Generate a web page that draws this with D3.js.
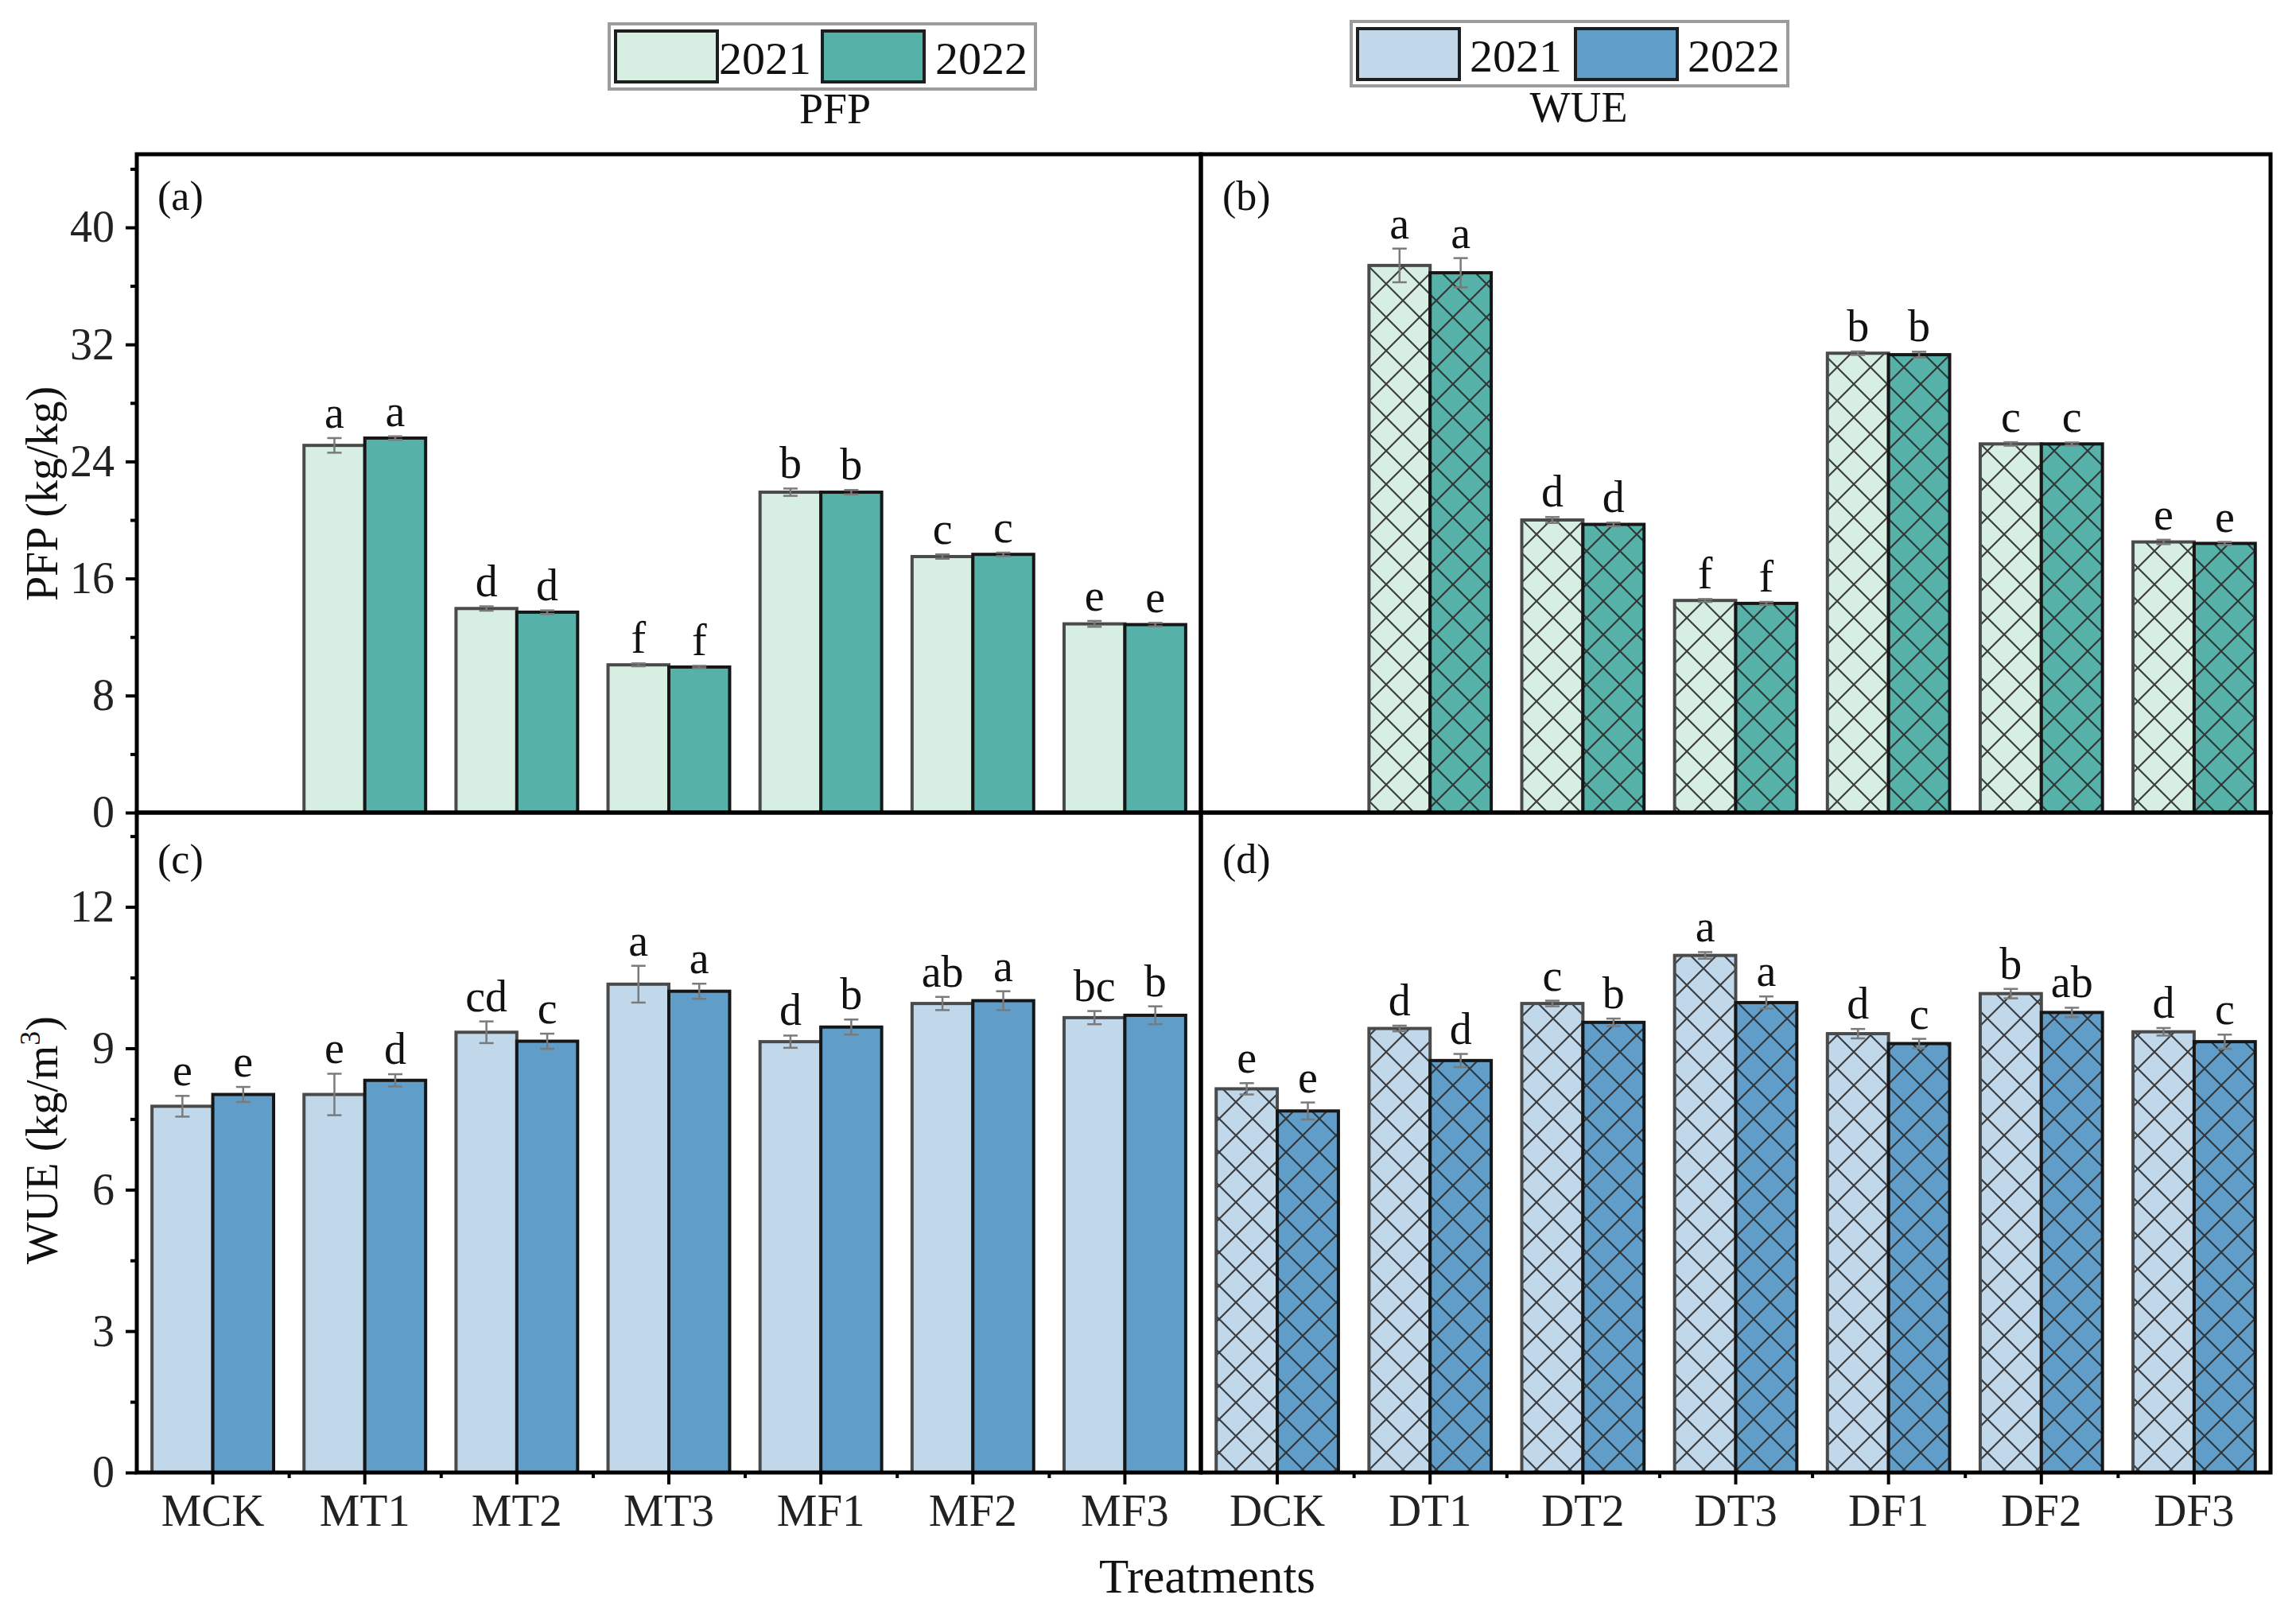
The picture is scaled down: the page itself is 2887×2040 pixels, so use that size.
<!DOCTYPE html>
<html>
<head>
<meta charset="utf-8">
<script src="https://cdn.jsdelivr.net/npm/d3@7"></script>
<style>
  body { margin: 0; background: #fff; }
</style>
</head>
<body>
<div id="chart"></div>
<script>
// categories
const catsM = ["MCK", "MT1", "MT2", "MT3", "MF1", "MF2", "MF3"];
const catsD = ["DCK", "DT1", "DT2", "DT3", "DF1", "DF2", "DF3"];
const years = ["2021", "2022"];

// PFP (kg/kg), CK has no fertilizer so no bar
const pfpM2021 = [null, 25.1, 13.95, 10.1, 21.9, 17.5, 12.9];
const pfpM2022 = [null, 25.6, 13.7, 9.95, 21.9, 17.65, 12.85];
const pfpMErr2021 = [0, 0.5, 0.15, 0.1, 0.25, 0.15, 0.2];
const pfpMErr2022 = [0, 0.12, 0.12, 0.08, 0.15, 0.12, 0.12];
const pfpMLet2021 = ["", "a", "d", "f", "b", "c", "e"];
const pfpMLet2022 = ["", "a", "d", "f", "b", "c", "e"];

const pfpD2021 = [null, 37.4, 20.0, 14.5, 31.4, 25.2, 18.5];
const pfpD2022 = [null, 36.9, 19.7, 14.3, 31.3, 25.2, 18.4];
const pfpDErr2021 = [0, 1.15, 0.2, 0.1, 0.12, 0.12, 0.15];
const pfpDErr2022 = [0, 1.0, 0.12, 0.1, 0.2, 0.1, 0.1];
const pfpDLet2021 = ["", "a", "d", "f", "b", "c", "e"];
const pfpDLet2022 = ["", "a", "d", "f", "b", "c", "e"];

// WUE (kg/m3)
const wueM2021 = [7.77, 8.02, 9.34, 10.36, 9.14, 9.95, 9.65];
const wueM2022 = [8.02, 8.32, 9.15, 10.21, 9.45, 10.01, 9.70];
const wueMErr2021 = [0.22, 0.44, 0.23, 0.39, 0.13, 0.14, 0.14];
const wueMErr2022 = [0.16, 0.13, 0.16, 0.16, 0.16, 0.2, 0.19];
const wueMLet2021 = ["e", "e", "cd", "a", "d", "ab", "bc"];
const wueMLet2022 = ["e", "d", "c", "a", "b", "a", "b"];

const wueD2021 = [8.14, 9.42, 9.95, 10.97, 9.31, 10.16, 9.35];
const wueD2022 = [7.67, 8.74, 9.55, 9.97, 9.10, 9.76, 9.14];
const wueDErr2021 = [0.12, 0.06, 0.06, 0.07, 0.1, 0.1, 0.08];
const wueDErr2022 = [0.18, 0.14, 0.08, 0.13, 0.1, 0.1, 0.15];
const wueDLet2021 = ["e", "d", "c", "a", "d", "b", "d"];
const wueDLet2022 = ["e", "d", "b", "a", "c", "ab", "c"];

// axis ticks
const pfpTicks = [0, 8, 16, 24, 32, 40];
const pfpMinor = [4, 12, 20, 28, 36, 44];
const wueTicks = [0, 3, 6, 9, 12];
const wueMinor = [1.5, 4.5, 7.5, 10.5, 13.5];

const colPFP = ["#d7efe3", "#56b1a8"];
const colWUE = ["#c1d8eb", "#609ec9"];
const strokeCol = ["#4a4a4a", "#161616"];

const W = 2887, H = 2040;
const xLeft = 172, xMid = 1510, xRight = 2855;
const yTop = 194, yMid = 1022, yBottom = 1852;
const font = "'Liberation Serif','Times New Roman',serif";

const svg = d3.select("#chart").append("svg")
  .attr("width", W)
  .attr("height", H)
  .style("font-family", font);

const defs = svg.append("defs");
function hatch(id, color) {
  const p = defs.append("pattern")
    .attr("id", id)
    .attr("patternUnits", "userSpaceOnUse")
    .attr("width", 42)
    .attr("height", 42);
  p.append("rect").attr("width", 42).attr("height", 42).attr("fill", color);
  p.append("path")
    .attr("d", "M0,0L42,42M42,0L0,42")
    .attr("stroke", "#2b2b2b")
    .attr("stroke-opacity", 0.9)
    .attr("stroke-width", 2.2);
}
hatch("hp1", colPFP[0]);
hatch("hp2", colPFP[1]);
hatch("hw1", colWUE[0]);
hatch("hw2", colWUE[1]);

const yA = d3.scaleLinear().domain([0, 45]).range([yMid, yTop]);
const yC = d3.scaleLinear().domain([0, 14]).range([yBottom, yMid]);

function drawPanel(cats, x0, x1, y, vals, errs, lets, fills) {
  const x = d3.scaleBand().domain(cats).range([x0, x1])
    .paddingInner(0.2).paddingOuter(0.1);
  const xs = d3.scaleBand().domain(years).range([0, x.bandwidth()]);
  const g = svg.append("g");
  const rows = [];
  cats.forEach((c, i) => {
    years.forEach((yr, j) => {
      if (vals[j][i] == null) return;
      rows.push({c, yr, j, v: vals[j][i], e: errs[j][i], l: lets[j][i]});
    });
  });
  g.selectAll("rect.bar")
    .data(rows)
    .enter()
    .append("rect")
    .attr("class", "bar")
    .attr("x", d => x(d.c) + xs(d.yr))
    .attr("y", d => y(d.v))
    .attr("width", xs.bandwidth())
    .attr("height", d => y(0) - y(d.v))
    .attr("fill", d => fills[d.j])
    .attr("stroke", d => strokeCol[d.j])
    .attr("stroke-width", 4);

  const eb = g.selectAll("g.err")
    .data(rows)
    .enter()
    .append("g")
    .attr("class", "err")
    .attr("stroke", "#7a7a7a")
    .attr("stroke-width", 2.5);
  const cx = d => x(d.c) + xs(d.yr) + xs.bandwidth() / 2;
  eb.append("line")
    .attr("x1", cx).attr("x2", cx)
    .attr("y1", d => y(d.v - d.e)).attr("y2", d => y(d.v + d.e));
  eb.append("line")
    .attr("x1", d => cx(d) - 9).attr("x2", d => cx(d) + 9)
    .attr("y1", d => y(d.v + d.e)).attr("y2", d => y(d.v + d.e));
  eb.append("line")
    .attr("x1", d => cx(d) - 9).attr("x2", d => cx(d) + 9)
    .attr("y1", d => y(d.v - d.e)).attr("y2", d => y(d.v - d.e));

  g.selectAll("text.let")
    .data(rows)
    .enter()
    .append("text")
    .attr("class", "let")
    .attr("x", cx)
    .attr("y", d => y(d.v + d.e) - 13)
    .attr("text-anchor", "middle")
    .attr("font-size", 56)
    .attr("fill", "#111")
    .text(d => d.l);
  return x;
}

drawPanel(catsM, xLeft, xMid, yA, [pfpM2021, pfpM2022], [pfpMErr2021, pfpMErr2022],
  [pfpMLet2021, pfpMLet2022], colPFP);
drawPanel(catsD, xMid, xRight, yA, [pfpD2021, pfpD2022], [pfpDErr2021, pfpDErr2022],
  [pfpDLet2021, pfpDLet2022], ["url(#hp1)", "url(#hp2)"]);
const xM = drawPanel(catsM, xLeft, xMid, yC, [wueM2021, wueM2022], [wueMErr2021, wueMErr2022],
  [wueMLet2021, wueMLet2022], colWUE);
const xD = drawPanel(catsD, xMid, xRight, yC, [wueD2021, wueD2022], [wueDErr2021, wueDErr2022],
  [wueDLet2021, wueDLet2022], ["url(#hw1)", "url(#hw2)"]);

// axes
function styleAxis(g) {
  g.select(".domain").remove();
  g.selectAll(".tick line").attr("stroke", "#000").attr("stroke-width", 4);
  g.selectAll(".tick text")
    .attr("font-family", font)
    .attr("font-size", 56)
    .attr("fill", "#222");
}
svg.append("g").attr("transform", `translate(${xLeft},0)`)
  .call(d3.axisLeft(yA).tickValues(pfpTicks).tickSize(14).tickPadding(14))
  .call(styleAxis);
svg.append("g").attr("transform", `translate(${xLeft},0)`)
  .call(d3.axisLeft(yA).tickValues(pfpMinor).tickSize(8).tickFormat(""))
  .call(styleAxis);
svg.append("g").attr("transform", `translate(${xLeft},0)`)
  .call(d3.axisLeft(yC).tickValues(wueTicks).tickSize(14).tickPadding(14))
  .call(styleAxis);
svg.append("g").attr("transform", `translate(${xLeft},0)`)
  .call(d3.axisLeft(yC).tickValues(wueMinor).tickSize(8).tickFormat(""))
  .call(styleAxis);

[[xM, xLeft, xMid], [xD, xMid, xRight]].forEach(([x, a, b]) => {
  svg.append("g").attr("transform", `translate(0,${yBottom})`)
    .call(d3.axisBottom(x).tickSize(15).tickPadding(12))
    .call(styleAxis)
    .selectAll(".tick text").attr("font-size", 57);
  const xb = d3.scaleLinear().domain([0, 7]).range([a, b]);
  svg.append("g").attr("transform", `translate(0,${yBottom})`)
    .call(d3.axisBottom(xb).tickValues([1, 2, 3, 4, 5, 6]).tickSize(7).tickFormat(""))
    .call(styleAxis);
});

// frames
[[xLeft, yTop, xMid, yMid], [xMid, yTop, xRight, yMid], [xLeft, yMid, xMid, yBottom], [xMid, yMid, xRight, yBottom]]
  .forEach(([a, b, c, d]) => {
    svg.append("rect")
      .attr("x", a).attr("y", b)
      .attr("width", c - a).attr("height", d - b)
      .attr("fill", "none")
      .attr("stroke", "#000")
      .attr("stroke-width", 5);
  });

// panel labels
[["(a)", xLeft + 26, 264], ["(b)", xMid + 27, 264], ["(c)", xLeft + 26, 1098], ["(d)", xMid + 27, 1098]]
  .forEach(([t, x, y]) => {
    svg.append("text").attr("x", x).attr("y", y)
      .attr("font-size", 52).attr("fill", "#111").text(t);
  });

// axis titles
svg.append("text")
  .attr("transform", "translate(72,621) rotate(-90)")
  .attr("text-anchor", "middle")
  .attr("font-size", 56)
  .attr("fill", "#111")
  .text("PFP (kg/kg)");
const wt = svg.append("text")
  .attr("transform", "translate(72,1434) rotate(-90)")
  .attr("text-anchor", "middle")
  .attr("font-size", 56)
  .attr("fill", "#111");
wt.append("tspan").text("WUE (kg/m");
wt.append("tspan").attr("font-size", 36).attr("dy", -22).text("3");
wt.append("tspan").attr("dy", 22).text(")");

svg.append("text")
  .attr("x", xMid + 8).attr("y", 2003)
  .attr("text-anchor", "middle")
  .attr("font-size", 61)
  .attr("fill", "#111")
  .text("Treatments");

// legends
function legend(bx, by, bw, bh, sw, tx, cols, title, titleX, titleY) {
  svg.append("rect")
    .attr("x", bx).attr("y", by).attr("width", bw).attr("height", bh)
    .attr("fill", "#fff").attr("stroke", "#9c9c9c").attr("stroke-width", 4);
  years.forEach((yr, j) => {
    svg.append("rect")
      .attr("x", sw[j]).attr("y", by + 9).attr("width", 128).attr("height", 64)
      .attr("fill", cols[j]).attr("stroke", "#1e1e1e").attr("stroke-width", 4);
    svg.append("text")
      .attr("x", tx[j]).attr("y", by + 63)
      .attr("font-size", 58).attr("fill", "#111")
      .text(yr);
  });
  svg.append("text")
    .attr("x", titleX).attr("y", titleY)
    .attr("text-anchor", "middle")
    .attr("font-size", 54).attr("fill", "#111")
    .text(title);
}
legend(766, 30, 536, 82, [774, 1034], [904, 1176], colPFP, "PFP", 1050, 155);
legend(1699, 27, 549, 81, [1707, 1981], [1848, 2122], colWUE, "WUE", 1985, 153);
</script>
</body>
</html>
